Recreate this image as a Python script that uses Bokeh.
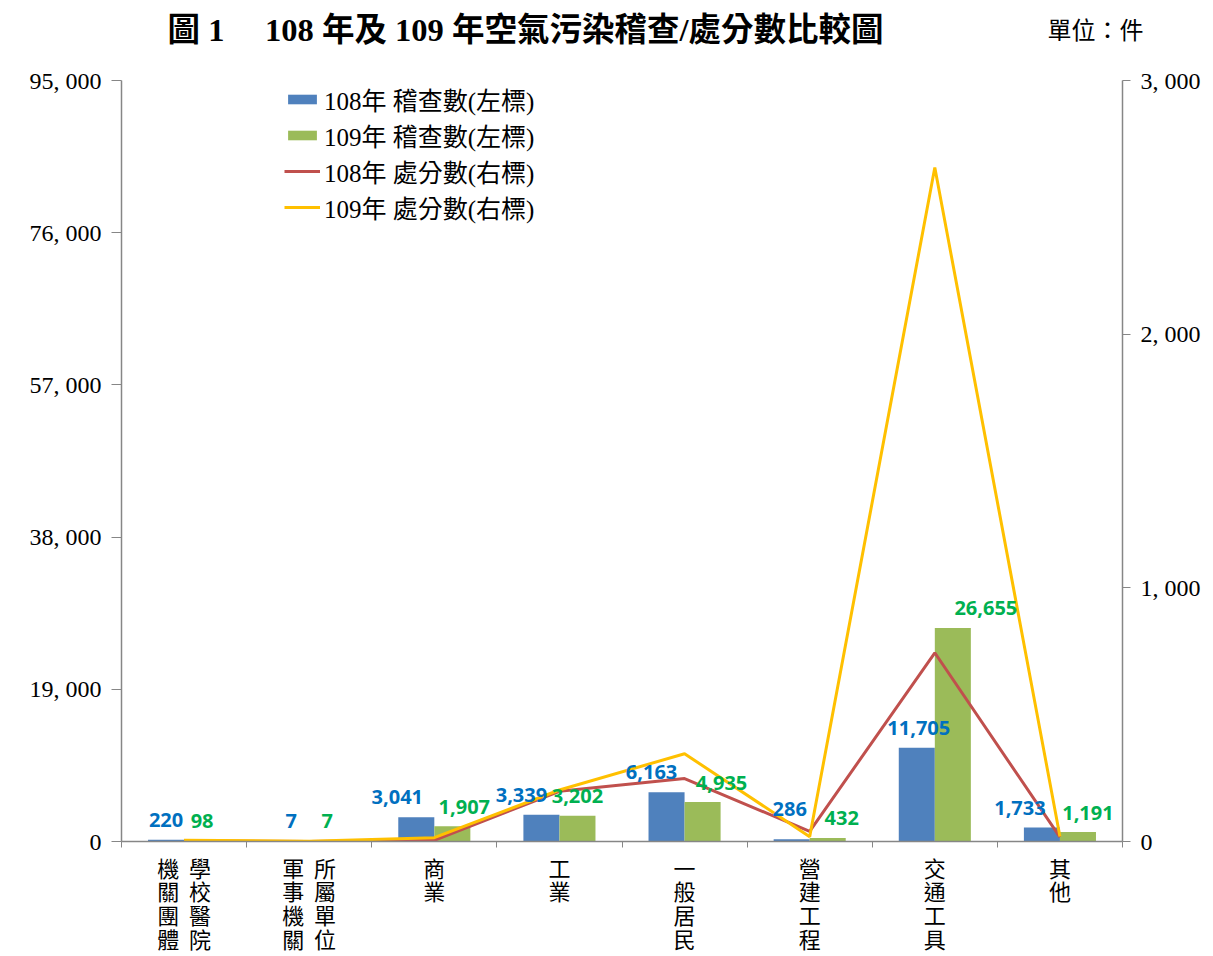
from bokeh.plotting import figure
from bokeh.models import (ColumnDataSource, Range1d, LinearAxis, FixedTicker,
                          CustomJSTickFormatter, Legend, LegendItem, Label)
from bokeh.transform import dodge
from bokeh.core.properties import value
from bokeh.embed import file_html
from bokeh.resources import INLINE

# ---------------- data ----------------
categories = ["機關團體學校醫院", "軍事機關所屬單位", "商業", "工業",
              "一般居民", "營建工程", "交通工具", "其他"]
NB = "\u00a0\u00a0"
tick_labels = [f"機{NB}學\n關{NB}校\n團{NB}醫\n體{NB}院",
               f"軍{NB}所\n事{NB}屬\n機{NB}單\n關{NB}位",
               "商\n業", "工\n業", "一\n般\n居\n民", "營\n建\n工\n程",
               "交\n通\n工\n具", "其\n他"]
inspect_108 = [220, 7, 3041, 3339, 6163, 286, 11705, 1733]
inspect_109 = [98, 7, 1907, 3202, 4935, 432, 26655, 1191]
penalty_108 = [3, 0, 5, 198, 248, 40, 744, 17]
penalty_109 = [5, 1, 15, 203, 346, 19, 2657, 20]
left_max = 95000
right_max = 3000
left_ticks = [0, 19000, 38000, 57000, 76000, 95000]
right_ticks = [0, 1000, 2000, 3000]
series_names = ["108年 稽查數(左標)", "109年 稽查數(左標)",
                "108年 處分數(右標)", "109年 處分數(右標)"]
title_text = "圖 1　 108 年及 109 年空氣污染稽查/處分數比較圖"
unit_text = "單位：件"

# label nudges (screen px), styling only
lab108_dx = [0, 0, -19, -20, -15, -2, 2, -22]
lab108_dy = [-20, -20, -20, -20, -20, -30, -20, -20]
lab109_dx = [0, 0, 12, 0, 19, 14, 33, 10]
lab109_dy = [-20, -20, -19, -20, -19, -20, -20, -19]

BLUE = "#4F81BD"
GREEN = "#9BBB59"
RED = "#C0504D"
YELLOW = "#FFC000"
AXIS = "#868686"
SERIF = "'Liberation Serif', 'Noto Sans CJK TC'"
CJK = "Noto Sans CJK TC"

W, H = 1213, 956
BORDER_L, BORDER_R, BORDER_T, BORDER_B = 121, 91, 80, 114
frame_h_est = 762

n = len(categories)
src = ColumnDataSource(dict(
    x=[i + 0.5 for i in range(n)],
    cat=categories,
    v108=inspect_108, v109=inspect_109,
    p108=penalty_108, p109=penalty_109,
    t108=[f"{v:,}" for v in inspect_108],
    t109=[f"{v:,}" for v in inspect_109],
    dx108=lab108_dx, dy108=lab108_dy, dx109=lab109_dx, dy109=lab109_dy,
))

p = figure(width=W, height=H, x_range=Range1d(0, n), y_range=Range1d(0, left_max),
           output_backend="svg", toolbar_location=None, title=None,
           min_border_left=BORDER_L, min_border_right=BORDER_R, min_border_top=BORDER_T,
           min_border_bottom=BORDER_B)
p.extra_y_ranges = {"right": Range1d(0, right_max)}
p.xgrid.visible = False
p.ygrid.visible = False
p.outline_line_color = None
p.background_fill_color = "white"
p.border_fill_color = "white"

bw = 0.288
b1 = p.vbar(x=dodge("x", -bw / 2), top="v108", width=bw, source=src,
            fill_color=BLUE, line_color=None)
b2 = p.vbar(x=dodge("x", bw / 2), top="v109", width=bw, source=src,
            fill_color=GREEN, line_color=None)
l1 = p.line(x="x", y="p108", source=src, y_range_name="right",
            line_color=RED, line_width=3)
l2 = p.line(x="x", y="p109", source=src, y_range_name="right",
            line_color=YELLOW, line_width=3)

p.text(x=dodge("x", -bw / 2), y="v108", text="t108", source=src,
       x_offset="dx108", y_offset="dy108", text_align="center", text_baseline="middle",
       text_font=value("Open Sans"), text_font_style="bold", text_font_size="20px",
       text_color="#0070C0")
p.text(x=dodge("x", bw / 2), y="v109", text="t109", source=src,
       x_offset="dx109", y_offset="dy109", text_align="center", text_baseline="middle",
       text_font=value("Open Sans"), text_font_style="bold", text_font_size="20px",
       text_color="#00B050")

# x axis
xa = p.xaxis[0]
xa.ticker = FixedTicker(ticks=[i + 0.5 for i in range(n)], minor_ticks=list(range(n + 1)))
xa.formatter = CustomJSTickFormatter(args=dict(labels=tick_labels),
                                     code="return labels[Math.floor(tick)];")
xa.major_tick_line_color = None
xa.major_tick_out = 0
xa.major_tick_in = 0
xa.minor_tick_out = 6
xa.minor_tick_in = 0
xa.minor_tick_line_color = AXIS
xa.axis_line_color = AXIS
xa.axis_line_width = 1.5
xa.major_label_standoff = 3
xa.major_label_text_font = CJK
xa.major_label_text_font_size = "22px"
xa.major_label_text_line_height = 0.74
xa.major_label_text_color = "black"

num_fmt = "return tick.toLocaleString('en-US').replace(/,/g, ', ');"

ya = p.yaxis[0]
ya.ticker = FixedTicker(ticks=left_ticks)
ya.formatter = CustomJSTickFormatter(code=num_fmt)
ya.major_tick_out = 10
ya.major_tick_in = 0
ya.minor_tick_line_color = None
ya.major_tick_line_color = AXIS
ya.axis_line_color = AXIS
ya.axis_line_width = 1.5
ya.major_label_standoff = 10
ya.major_label_text_font = "Liberation Serif"
ya.major_label_text_font_size = "24px"
ya.major_label_text_color = "black"

ra = LinearAxis(y_range_name="right", ticker=FixedTicker(ticks=right_ticks),
                formatter=CustomJSTickFormatter(code=num_fmt))
ra.major_tick_out = 8
ra.major_tick_in = 0
ra.minor_tick_line_color = None
ra.major_tick_line_color = AXIS
ra.axis_line_color = AXIS
ra.axis_line_width = 1.5
ra.major_label_standoff = 10
ra.major_label_text_font = "Liberation Serif"
ra.major_label_text_font_size = "24px"
ra.major_label_text_color = "black"
p.add_layout(ra, "right")

legend = Legend(items=[LegendItem(label=series_names[0], renderers=[b1]),
                       LegendItem(label=series_names[1], renderers=[b2]),
                       LegendItem(label=series_names[2], renderers=[l1]),
                       LegendItem(label=series_names[3], renderers=[l2])],
                location=(163, frame_h_est - 146))
legend.background_fill_alpha = 0
legend.border_line_color = None
legend.padding = 0
legend.margin = 0
legend.spacing = 0
legend.label_height = 27
legend.glyph_width = 36
legend.glyph_height = 12
legend.label_standoff = 4
legend.label_text_font = SERIF
legend.label_text_font_size = "25px"
legend.label_text_color = "black"
p.add_layout(legend)

# title and unit in the top border panel (not clipped to the frame)
unit_label = Label(x=926, y=50, x_units="screen", y_units="screen", text=unit_text,
                   text_baseline="middle", text_align="left", text_font=SERIF,
                   text_font_size="24px", text_color="black")
title_label = Label(x=46, y=25, x_units="screen", y_units="screen", text=title_text,
                    text_baseline="middle", text_align="left", text_font=SERIF,
                    text_font_style="bold", text_font_size="32.5px", text_line_height=0.9,
                    text_color="black")
p.add_layout(unit_label, "above")
p.add_layout(title_label, "above")

open("out.html", "w").write(file_html(p, INLINE))
